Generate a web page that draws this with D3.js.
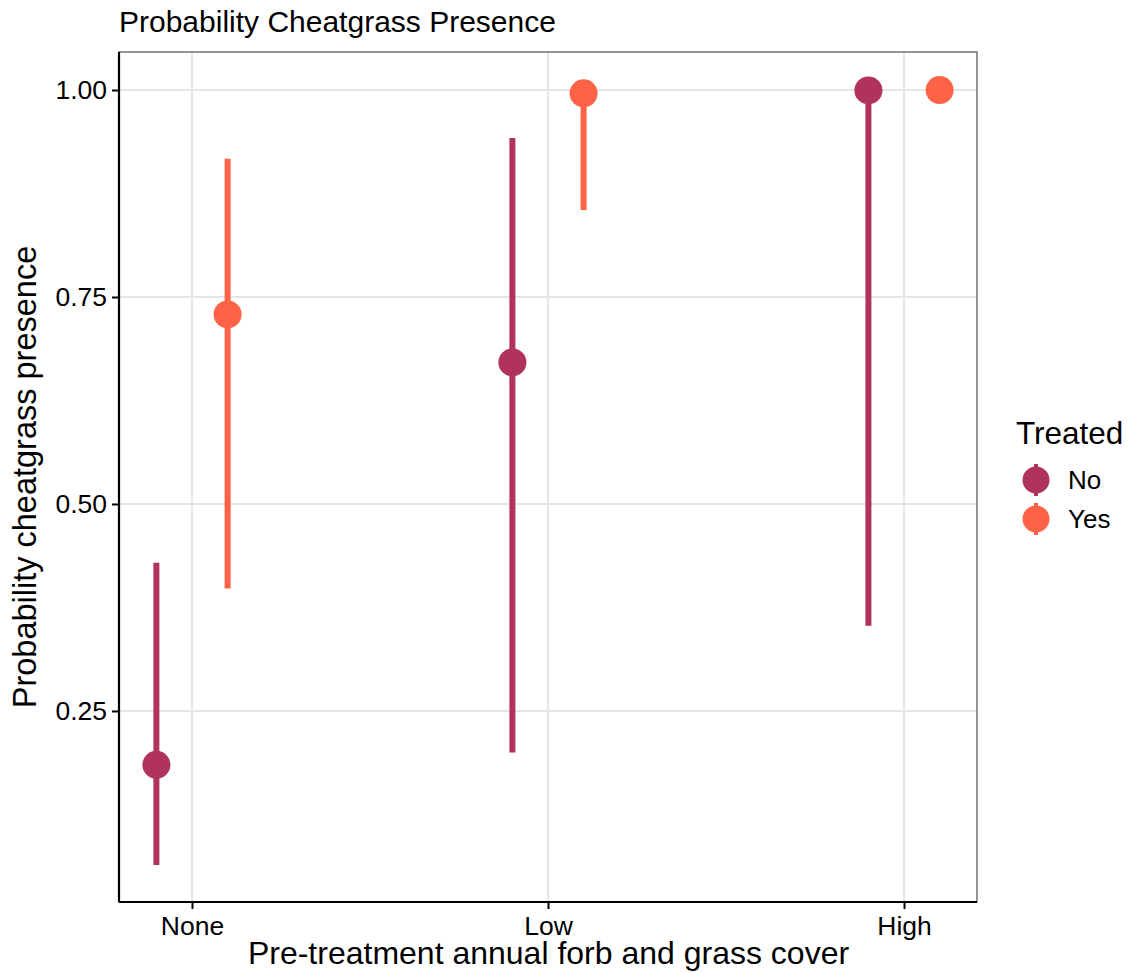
<!DOCTYPE html>
<html>
<head>
<meta charset="utf-8">
<script src="https://cdn.jsdelivr.net/npm/d3@7"></script>
<style>
  html, body { margin: 0; padding: 0; background: #fff; }
  svg { display: block; font-family: "Liberation Sans", Arial, Helvetica, sans-serif; }
</style>
</head>
<body>
<svg id="chart" width="1131" height="973"></svg>
<script>
// ---- data ----
const categories = ["None", "Low", "High"];
const groups = ["No", "Yes"];
const estNo   = [0.185, 0.671, 0.9995];
const lowNo   = [0.064, 0.200, 0.353];
const highNo  = [0.429, 0.942, 1.000];
const estYes  = [0.729, 0.996, 0.9999];
const lowYes  = [0.398, 0.855, 0.999];
const highYes = [0.917, 1.000, 1.000];
const yTicks = [0.25, 0.50, 0.75, 1.00];
const colors = {No: "#B0325F", Yes: "#FF6347"};

// ---- layout ----
const svg = d3.select("#chart");
const P = {left: 119, right: 977, top: 52, bottom: 902};

const x = d3.scaleLinear().domain([0.795, 3.205]).range([P.left, P.right]);
const y = d3.scaleLinear().domain([0.0193, 1.0459]).range([P.bottom, P.top]);
const dodge = {No: -0.1, Yes: 0.1};

const rows = [];
categories.forEach((c, i) => {
  rows.push({cat: c, i: i + 1, g: "No", est: estNo[i], lo: lowNo[i], hi: highNo[i]});
  rows.push({cat: c, i: i + 1, g: "Yes", est: estYes[i], lo: lowYes[i], hi: highYes[i]});
});

// grid
const grid = svg.append("g");
grid.selectAll("line.gy").data(yTicks).join("line")
  .attr("x1", P.left).attr("x2", P.right)
  .attr("y1", d => y(d)).attr("y2", d => y(d))
  .attr("stroke", "#e5e5e5").attr("stroke-width", 2);
grid.selectAll("line.gx").data(categories).join("line")
  .attr("x1", (d, i) => x(i + 1)).attr("x2", (d, i) => x(i + 1))
  .attr("y1", P.top).attr("y2", P.bottom)
  .attr("stroke", "#e5e5e5").attr("stroke-width", 2);

// panel border (top/right)
svg.append("rect")
  .attr("x", P.left).attr("y", P.top)
  .attr("width", P.right - P.left).attr("height", P.bottom - P.top)
  .attr("fill", "none").attr("stroke", "#4d4d4d").attr("stroke-width", 1.2);

// marks
const marks = svg.append("g");
marks.selectAll("line.range").data(rows).join("line")
  .attr("x1", d => x(d.i + dodge[d.g])).attr("x2", d => x(d.i + dodge[d.g]))
  .attr("y1", d => y(d.lo)).attr("y2", d => y(d.hi))
  .attr("stroke", d => colors[d.g]).attr("stroke-width", 6);
marks.selectAll("circle").data(rows).join("circle")
  .attr("cx", d => x(d.i + dodge[d.g])).attr("cy", d => y(d.est))
  .attr("r", 14).attr("fill", d => colors[d.g]);

// axes
const yAxis = svg.append("g").attr("transform", `translate(${P.left},0)`)
  .call(d3.axisLeft(y).tickValues(yTicks).tickFormat(d3.format(".2f")).tickSize(7).tickPadding(5));
const xAxis = svg.append("g").attr("transform", `translate(0,${P.bottom})`)
  .call(d3.axisBottom(x).tickValues([1, 2, 3]).tickFormat((d) => categories[d - 1]).tickSize(7).tickPadding(7));
[yAxis, xAxis].forEach(a => {
  a.select(".domain").attr("stroke", "#000").attr("stroke-width", 2.2);
  a.selectAll(".tick line").attr("stroke", "#000").attr("stroke-width", 2);
  a.selectAll(".tick text").attr("fill", "#000").attr("font-size", 26.5)
    .attr("font-family", "'Liberation Sans', Arial, sans-serif");
});
yAxis.select(".domain").attr("d", `M0,${P.top}V${P.bottom}`);
xAxis.select(".domain").attr("d", `M${P.left},0H${P.right}`);

// titles
svg.append("text").attr("x", P.left).attr("y", 32)
  .attr("font-size", 30).attr("fill", "#000").text("Probability Cheatgrass Presence");
svg.append("text").attr("x", (P.left + P.right) / 2 + 0.5).attr("y", 964)
  .attr("text-anchor", "middle").attr("font-size", 32).attr("fill", "#000")
  .text("Pre-treatment annual forb and grass cover");
svg.append("text")
  .attr("transform", `translate(36,${(P.top + P.bottom) / 2}) rotate(-90)`)
  .attr("text-anchor", "middle").attr("font-size", 32.5).attr("fill", "#000")
  .text("Probability cheatgrass presence");

// legend
const lg = svg.append("g");
lg.append("text").attr("x", 1016).attr("y", 444).attr("font-size", 31.5).attr("fill", "#000").text("Treated");
const items = lg.selectAll("g.item").data(groups).join("g")
  .attr("transform", (d, i) => `translate(1036,${480 + i * 39})`);
items.append("line").attr("y1", -16).attr("y2", 16)
  .attr("stroke", d => colors[d]).attr("stroke-width", 4);
items.append("circle").attr("r", 13.5).attr("fill", d => colors[d]);
items.append("text").attr("x", 32).attr("y", 9).attr("font-size", 26).attr("fill", "#000").text(d => d);
</script>
</body>
</html>
